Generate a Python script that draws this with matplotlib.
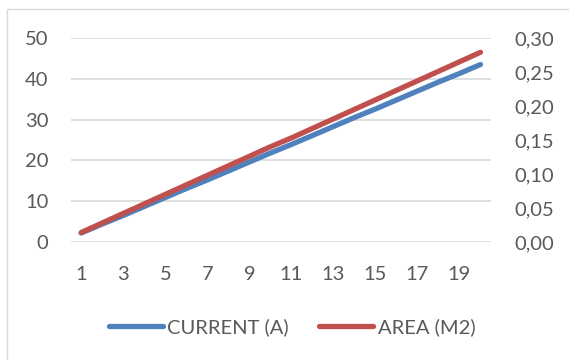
import matplotlib.pyplot as plt
from matplotlib.patches import Rectangle
from matplotlib.lines import Line2D

plt.rcParams['font.family'] = ['Lato', 'DejaVu Sans']

n = list(range(1, 21))
current = [2.2, 4.4, 6.5, 8.7, 10.9, 13.1, 15.2, 17.4, 19.6, 21.8,
           23.9, 26.1, 28.3, 30.5, 32.6, 34.8, 37.0, 39.2, 41.3, 43.5]
area = [0.014, 0.028, 0.042, 0.056, 0.070, 0.084, 0.098, 0.112, 0.126, 0.140,
        0.153, 0.167, 0.181, 0.195, 0.209, 0.223, 0.237, 0.251, 0.265, 0.279]

left_ticks = [0, 10, 20, 30, 40, 50]
right_ticks = [0.00, 0.05, 0.10, 0.15, 0.20, 0.25, 0.30]
x_ticks = list(range(1, 21, 2))

blue = '#4F81BD'
red = '#C0504D'
txt = '#595959'
grid = '#D9D9D9'
fs = 14.5

fig = plt.figure(figsize=(5.69, 3.6), dpi=100)
fig.patches.append(Rectangle((6.5 / 569, -0.1), 1.2, 1.1 - 9 / 360, transform=fig.transFigure,
                             fill=False, edgecolor='#D9D9D9', linewidth=1.0))

ax = fig.add_axes([70.7 / 569, 118 / 360, (491 - 70.7) / 569, 204 / 360])
ax2 = ax.twinx()

ax.plot(n, current, color=blue, linewidth=3.8, solid_capstyle='round', zorder=3)
ax2.plot(n, area, color=red, linewidth=3.8, solid_capstyle='round', zorder=3)

ax.set_xlim(0.5, 20.5)
ax.set_ylim(0, 50)
ax2.set_ylim(0, 0.30)
ax.set_xticks(x_ticks)
ax.set_yticks(left_ticks)
ax2.set_yticks(right_ticks)
ax2.set_yticklabels([f'{v:.2f}'.replace('.', ',') for v in right_ticks])

for a in (ax, ax2):
    for s in a.spines.values():
        s.set_visible(False)
    a.tick_params(length=0, labelsize=fs, labelcolor=txt)
ax.tick_params(axis='y', pad=16)
ax2.tick_params(axis='y', pad=17)
ax.tick_params(axis='x', pad=17)
ax.yaxis.grid(True, color=grid, linewidth=1.2)
ax.set_axisbelow(True)

handles = [Line2D([], [], color=blue, linewidth=3.8, solid_capstyle='round'),
           Line2D([], [], color=red, linewidth=3.8, solid_capstyle='round')]
leg = fig.legend(handles, ['CURRENT (A)', 'AREA (M2)'], loc='center',
                 bbox_to_anchor=(292 / 569, 1 - 327 / 360), ncol=2, frameon=False,
                 fontsize=fs, handlelength=2.7, handletextpad=0.2, columnspacing=1.5)
for t in leg.get_texts():
    t.set_color(txt)

fig.savefig('out.png', dpi=100)
